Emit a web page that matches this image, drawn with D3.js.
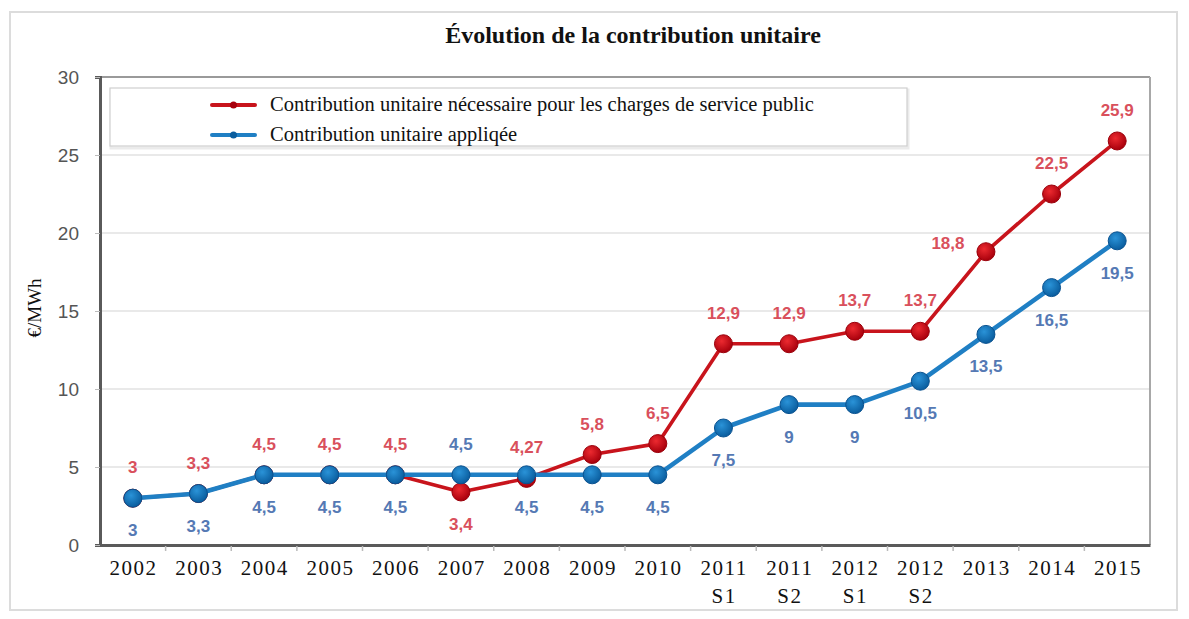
<!DOCTYPE html>
<html>
<head>
<meta charset="utf-8">
<script src="https://cdn.jsdelivr.net/npm/d3@7"></script>
<style>
  html, body { margin: 0; padding: 0; background: #fff; }
  svg { display: block; }
</style>
</head>
<body>
<svg id="chart" width="1189" height="619"></svg>
<script>
// ---- data ----
const categories = ["2002","2003","2004","2005","2006","2007","2008","2009","2010",
  "2011 S1","2011 S2","2012 S1","2012 S2","2013","2014","2015"];
const necessaire = [3, 3.3, 4.5, 4.5, 4.5, 3.4, 4.27, 5.8, 6.5, 12.9, 12.9, 13.7, 13.7, 18.8, 22.5, 25.9];
const appliquee  = [3, 3.3, 4.5, 4.5, 4.5, 4.5, 4.5, 4.5, 4.5, 7.5, 9, 9, 10.5, 13.5, 16.5, 19.5];
const yTicks = [0, 5, 10, 15, 20, 25, 30];
const seriesNames = ["Contribution unitaire nécessaire pour les charges de service public",
                     "Contribution unitaire appliqée"];
const titleText = "Évolution de la contribution unitaire";
const yTitle = "€/MWh";
// label placement (styling)
const placeRed  = ["a","a","a","a","a","b","a","a","a","a","a","a","a","l","a","a"];
const placeBlue = ["b","b","b","b","b","a","b","b","b","b","b","b","b","b","b","b"];

// ---- drawing ----
const svg = d3.select("#chart");
const W = 1189, H = 619;
const L = 100, R = 1150, T = 77, B = 545;

const defs = svg.append("defs");
function grad(id, c0, c1) {
  const g = defs.append("radialGradient").attr("id", id)
    .attr("cx", "40%").attr("cy", "35%").attr("r", "65%");
  g.append("stop").attr("offset", "0%").attr("stop-color", c0);
  g.append("stop").attr("offset", "100%").attr("stop-color", c1);
}
grad("gRed", "#ec2a30", "#a8000c");
grad("gBlue", "#2a93d8", "#0a5d9e");

svg.append("rect").attr("width", W).attr("height", H).attr("fill", "#fff");
// outer frame
svg.append("rect").attr("x", 10).attr("y", 12).attr("width", 1167).attr("height", 598)
  .attr("fill", "none").attr("stroke", "#dcdcdc").attr("stroke-width", 2);

svg.append("text").attr("x", 633).attr("y", 43).attr("text-anchor", "middle")
  .attr("font-family", "Liberation Serif, serif").attr("font-weight", "bold")
  .attr("font-size", 24).attr("fill", "#111").text(titleText);

const x = d3.scaleBand().domain(categories).range([L, R]);
const y = d3.scaleLinear().domain([0, 30]).range([B, T]);
const cx = d => x(d) + x.bandwidth() / 2;

// gridlines
svg.append("g").selectAll("line").data(yTicks.filter(t => t > 0 && t < 30)).join("line")
  .attr("x1", L).attr("x2", R).attr("y1", d => y(d)).attr("y2", d => y(d))
  .attr("stroke", "#e2e2e2").attr("stroke-width", 1.5);

// plot frame top/right
svg.append("line").attr("x1", L).attr("x2", R).attr("y1", T).attr("y2", T)
  .attr("stroke", "#9a9a9a").attr("stroke-width", 2);
svg.append("line").attr("x1", R).attr("x2", R).attr("y1", T).attr("y2", B)
  .attr("stroke", "#a8a8a8").attr("stroke-width", 2);

// y axis
const yAxis = svg.append("g").attr("transform", `translate(${L},0)`)
  .call(d3.axisLeft(y).tickValues(yTicks).tickSize(5).tickPadding(16));
yAxis.select(".domain").attr("stroke", "#5a5a5a").attr("stroke-width", 3);
yAxis.selectAll(".tick line").attr("stroke", "#bbb");
yAxis.selectAll(".tick text").attr("font-family", "Liberation Sans, Arial, sans-serif")
  .attr("font-size", 19).attr("fill", "#555");

// x axis
const xAxis = svg.append("g").attr("transform", `translate(0,${B})`)
  .call(d3.axisBottom(x).tickSize(0).tickFormat(""));
xAxis.select(".domain").attr("stroke", "#5a5a5a").attr("stroke-width", 3);
xAxis.selectAll(".tick text").remove();
// boundary ticks
svg.append("g").selectAll("line").data(categories.slice(1)).join("line")
  .attr("x1", d => x(d)).attr("x2", d => x(d)).attr("y1", B + 1).attr("y2", B + 6)
  .attr("stroke", "#bbb").attr("stroke-width", 1.5);
// x labels
const xl = svg.append("g").selectAll("text").data(categories).join("text")
  .attr("x", d => cx(d)).attr("y", 575).attr("text-anchor", "middle")
  .attr("font-family", "Liberation Serif, serif").attr("font-size", 21)
  .attr("letter-spacing", 1.5).attr("fill", "#111");
xl.each(function(d) {
  const parts = d.split(" ");
  const t = d3.select(this);
  parts.forEach((p, i) => {
    t.append("tspan").attr("x", cx(d) + 0.75).attr("dy", i === 0 ? 0 : 28).text(p);
  });
});

// y title
svg.append("text").attr("transform", "translate(41,308) rotate(-90)")
  .attr("text-anchor", "middle").attr("font-family", "Liberation Serif, serif")
  .attr("font-size", 19).attr("fill", "#111").text(yTitle);

// legend
svg.append("rect").attr("x", 111).attr("y", 90).attr("width", 797).attr("height", 58)
  .attr("fill", "none").attr("stroke", "#ebebeb").attr("stroke-width", 3);
svg.append("rect").attr("x", 110).attr("y", 88).attr("width", 797).attr("height", 58)
  .attr("fill", "#fff").attr("stroke", "#cfcfcf").attr("stroke-width", 1.2);
const legColors = ["#c8141c", "#1f7fc4"];
seriesNames.forEach((name, i) => {
  const ly = 105 + i * 30;
  svg.append("line").attr("x1", 212).attr("x2", 255).attr("y1", ly).attr("y2", ly)
    .attr("stroke", legColors[i]).attr("stroke-width", 4).attr("stroke-linecap", "round");
  svg.append("circle").attr("cx", 233.5).attr("cy", ly).attr("r", 3.5)
    .attr("fill", i === 0 ? "#a8000c" : "#0a5d9e");
  svg.append("text").attr("x", 270).attr("y", ly + 6)
    .attr("font-family", "Liberation Serif, serif").attr("font-size", 20.5)
    .attr("fill", "#111").text(name);
});

// series
const line = d3.line().x((d, i) => cx(categories[i])).y(d => y(d));
const fmt = v => String(v).replace(".", ",");

function drawSeries(vals, color, width, gradId, stroke, labelColor, places) {
  const g = svg.append("g");
  g.append("path").datum(vals).attr("d", line).attr("fill", "none")
    .attr("stroke", color).attr("stroke-width", width).attr("stroke-linejoin", "round");
  g.selectAll("circle").data(vals).join("circle")
    .attr("cx", (d, i) => cx(categories[i])).attr("cy", d => y(d)).attr("r", 9)
    .attr("fill", `url(#${gradId})`).attr("stroke", stroke).attr("stroke-width", 1);
  return { g, labelColor, places, vals };
}
function drawLabels(s) {
  s.g.selectAll("text").data(s.vals).join("text")
    .attr("x", (d, i) => cx(categories[i]) + (s.places[i] === "l" ? -38 : 0))
    .attr("y", (d, i) => {
      const p = s.places[i];
      if (p === "a") return y(d) - 25;
      if (p === "b") return y(d) + 38;
      return y(d) - 3;
    })
    .attr("text-anchor", "middle")
    .attr("font-family", "Liberation Sans, Arial, sans-serif").attr("font-weight", "bold")
    .attr("font-size", 17).attr("fill", s.labelColor).text(d => fmt(d));
}
const sRed = drawSeries(necessaire, "#c8141c", 3.6, "gRed", "#9a000a", "#d9505c", placeRed);
const sBlue = drawSeries(appliquee, "#1f7fc4", 4.6, "gBlue", "#0a5290", "#5579b4", placeBlue);
drawLabels(sRed);
drawLabels(sBlue);
</script>
</body>
</html>
